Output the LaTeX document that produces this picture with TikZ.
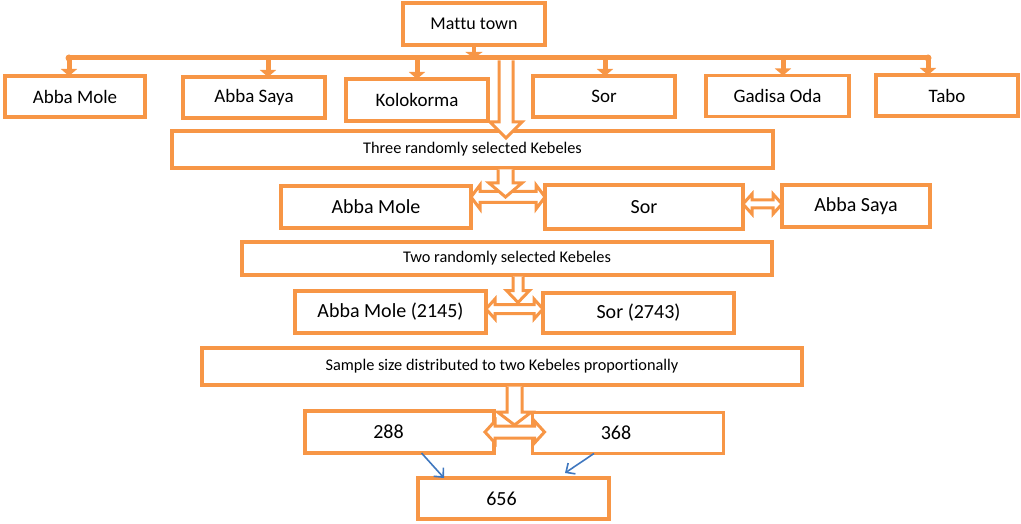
\documentclass[tikz,border=0pt]{standalone}
\usepackage{fontspec}
\setmainfont{Carlito}[Ligatures={NoCommon,NoContextual}]
\usetikzlibrary{calc,arrows.meta}
\definecolor{orng}{HTML}{F79646}
\definecolor{blu}{HTML}{3F77BF}
% vertical block arrow: #1 start, #2 tip, #3 half shaft, #4 half head, #5 head length
\newcommand\vblk[5]{%
  \filldraw[blk] let \p1=#1, \p2=#2 in
    (\x1-#3pt,\y1) -- (\x1-#3pt,\y2+#5pt) -- (\x1-#4pt,\y2+#5pt) -- (\x1,\y2)
    -- (\x1+#4pt,\y2+#5pt) -- (\x1+#3pt,\y2+#5pt) -- (\x1+#3pt,\y1);}
% horizontal double block arrow: #1 left tip, #2 right tip, #3 half shaft, #4 half head, #5 head length
\newcommand\hblk[5]{%
  \filldraw[blk] let \p1=#1, \p2=#2 in
    (\x1,\y1) -- (\x1+#5pt,\y1+#4pt) -- (\x1+#5pt,\y1+#3pt) -- (\x2-#5pt,\y1+#3pt)
    -- (\x2-#5pt,\y1+#4pt) -- (\x2,\y1) -- (\x2-#5pt,\y1-#4pt) -- (\x2-#5pt,\y1-#3pt)
    -- (\x1+#5pt,\y1-#3pt) -- (\x1+#5pt,\y1-#4pt) -- cycle;}
\begin{document}
\begin{tikzpicture}[x=1pt,y=-1pt,
  box/.style={draw=orng, line width=3.5pt, fill=white, inner sep=0pt, outer sep=0pt, align=center},
  fA/.style={font=\fontsize{18}{21}\selectfont},
  fB/.style={font=\fontsize{19}{22}\selectfont},
  fC/.style={font=\fontsize{16.3}{19}\selectfont},
  fD/.style={font=\fontsize{20}{23}\selectfont},
  blk/.style={draw=orng, line width=3pt, fill=white, line join=miter},
  barr/.style={draw=orng, line width=5pt, -{Triangle[width=16pt,length=7pt]}},
  bluarr/.style={draw=blu, line width=1.6pt, -{Straight Barb[length=7pt,width=13pt]}}]
\useasboundingbox (0,0) rectangle (1021,524);

% top
\node[box,fA,minimum width=142pt,minimum height=42pt] (mattu) at (474,24) {Mat\kern0pt tu town};
\node[box,fB,minimum width=140pt,minimum height=41pt] (am1) at (75,96.5) {Abba Mole};
\node[box,fB,minimum width=142pt,minimum height=41pt] (as1) at (254,97.5) {Abba Saya};
\node[box,fB,minimum width=142pt,minimum height=42pt] (kolo) at (417,100) {Kolokorma};
\node[box,fB,minimum width=142pt,minimum height=41pt] (sor1) at (604,96.5) {Sor};
\node[box,fB,minimum width=143pt,minimum height=41pt] (gad) at (777.5,96) {Gadisa Oda};
\node[box,fB,minimum width=142pt,minimum height=41pt] (tabo) at (947,95.5) {Tabo};

\node[box,fC,minimum width=601pt,minimum height=37pt] (three) at (472.5,149.5) {Three randomly selected Kebeles};
\node[box,fD,minimum width=190pt,minimum height=42pt] (am2) at (376,207) {Abba Mole};
\node[box,fD,minimum width=198pt,minimum height=44pt] (sor2) at (644,207) {Sor};
\node[box,fD,minimum width=148pt,minimum height=42pt] (as3) at (856,206) {Abba Saya};

\node[box,fC,minimum width=530pt,minimum height=33pt] (two) at (507,258.5) {Two randomly selected Kebeles};
\node[box,fD,minimum width=191pt,minimum height=42pt] (am4) at (390.5,312) {Abba Mole (2145)};
\node[box,fD,minimum width=191pt,minimum height=40pt] (sor4) at (638.5,313) {Sor (2743)};

\node[box,fC,minimum width=600pt,minimum height=37pt] (sample) at (502,366.5) {Sample size distributed to two Kebeles proportionally};
\node[box,fD,minimum width=189pt,minimum height=42pt] (n288) at (399.5,432) {\hspace*{-22pt}288};
\node[box,fD,minimum width=191pt,minimum height=41pt] (n368) at (628,433) {\hspace*{-24pt}\raisebox{-4pt}{368}};
\node[box,fD,minimum width=191pt,minimum height=41pt] (n656) at (513.5,498.5) {\hspace*{-24pt}\raisebox{-3pt}{656}};

% distribution bar
\coordinate (bar) at (0,58);
\coordinate (barb) at (0,60.5);
\path ([xshift=-6pt]am1.north) coordinate (t1)
      ([xshift=14pt]as1.north) coordinate (t2)
      (kolo.north) coordinate (t3)
      ([xshift=1pt]sor1.north) coordinate (t4)
      ([xshift=5.5pt]gad.north) coordinate (t5)
      ([xshift=-19pt]tabo.north) coordinate (t6);
\draw[orng, line width=4pt, -{Triangle[width=17pt,length=6pt]}] (mattu.south) -- (mattu.south |- bar);
\draw[orng, line width=5pt, line cap=round] (t1 |- bar) -- (t6 |- bar);
\fill[orng] (t1 |- bar) circle (3.5pt) (t6 |- bar) circle (3.5pt);
\foreach \t in {t1,t2,t3,t4,t5,t6}
  \draw[barr] (\t |- bar) -- (\t);

% big arrow to "Three randomly selected"
\path ([xshift=33.5pt]three.north) coordinate (v1);
\vblk{(v1 |- barb)}{([yshift=-7pt]v1)}{7}{16}{16}

% double arrows
\path ([yshift=10pt]am2.east) coordinate (h2);
\hblk{(h2)}{([yshift=10pt]sor2.west)}{5.5}{12}{9}
\hblk{([yshift=3pt]sor2.east)}{([yshift=3pt]as3.west)}{4}{10}{9}
\hblk{([yshift=3pt]am4.east)}{([yshift=3pt]sor4.west)}{4.5}{10}{9}
\hblk{([xshift=-9pt]n288.east)}{([xshift=12pt]n368.west)}{6}{11}{10}

% vertical block arrows
\path ([xshift=33pt,yshift=-1.5pt]three.south) coordinate (v2);
\vblk{(v2)}{(v2 |- h2)}{7.5}{16.5}{14}
\path ([xshift=11pt,yshift=-1.5pt]two.south) coordinate (v3);
\vblk{(v3)}{([yshift=-26pt]v3)}{5}{11.5}{12}
\path ([xshift=12.5pt,yshift=-1.5pt]sample.south) coordinate (v4);
\vblk{(v4)}{([yshift=-38.5pt]v4)}{7.5}{17}{13}

% blue arrows
\draw[bluarr] ([xshift=22pt]n288.south) -- ([xshift=-69.5pt]n656.north);
\draw[bluarr] ([xshift=-34pt]n368.south) -- ([xshift=51.5pt,yshift=5pt]n656.north);
\end{tikzpicture}
\end{document}
